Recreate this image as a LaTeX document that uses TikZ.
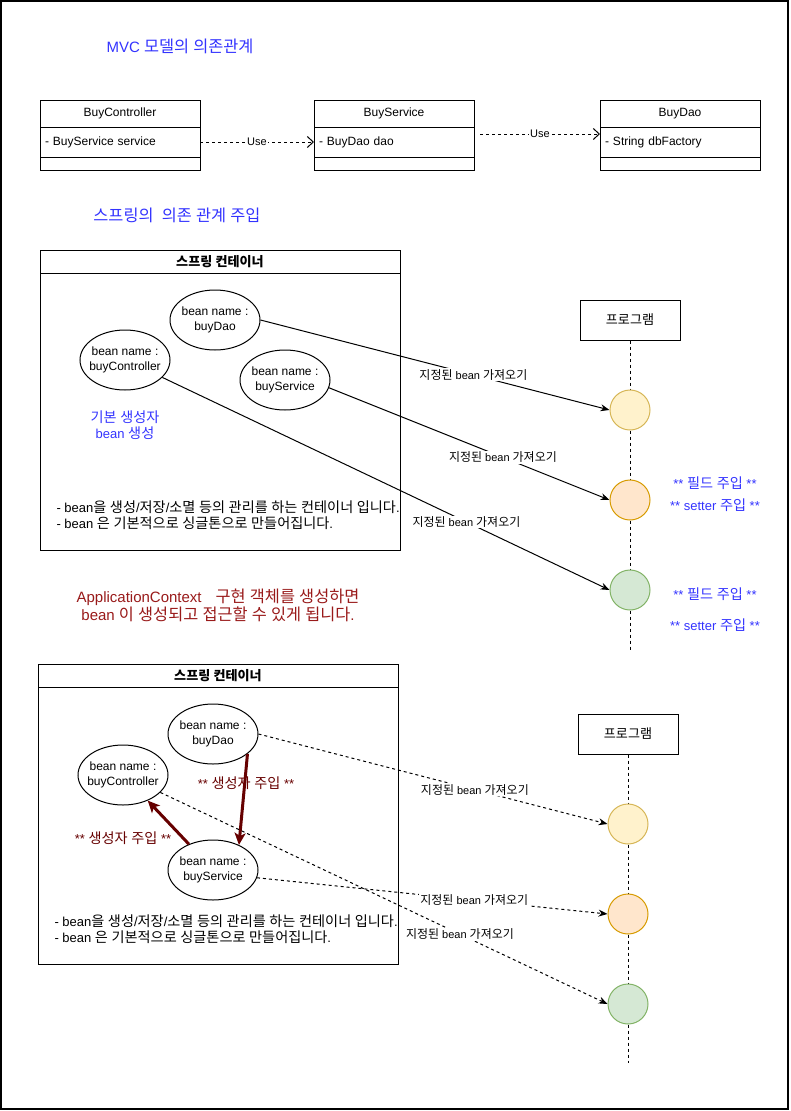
\documentclass[tikz,border=0pt]{standalone}
\usepackage{fontspec}
\setmainfont{Liberation Sans}
\newfontfamily\krfont{Noto Sans CJK KR}[Scale=1.09]
\usetikzlibrary{positioning,shapes.geometric,arrows.meta}
\XeTeXinterchartokenstate=1
\newXeTeXintercharclass\krclass
\newcount\krcode
\krcode="AC00
\loop
  \XeTeXcharclass\krcode=\krclass
  \ifnum\krcode<"D7A3 \advance\krcode by 1
\repeat
\XeTeXinterchartoks 0 \krclass = {\begingroup\krfont}
\XeTeXinterchartoks 4095 \krclass = {\begingroup\krfont}
\XeTeXinterchartoks \krclass 0 = {\endgroup}
\XeTeXinterchartoks \krclass 4095 = {\endgroup}
\definecolor{titleblue}{HTML}{3333FF}
\definecolor{notered}{HTML}{991A1A}
\definecolor{injectred}{HTML}{660000}
\definecolor{yellowfill}{HTML}{FFF2CC}
\definecolor{yellowline}{HTML}{D6B656}
\definecolor{orangefill}{HTML}{FFE6CC}
\definecolor{orangeline}{HTML}{D79B00}
\definecolor{greenfill}{HTML}{D5E8D4}
\definecolor{greenline}{HTML}{82B366}
\newcommand{\fs}[2]{\fontsize{#1}{#2}\selectfont}
\tikzset{
  umlhead/.style={draw,outer sep=0pt,minimum width=160pt,minimum height=27pt,inner sep=0pt,font=\fs{12}{14}},
  umlattr/.style={draw,outer sep=0pt,minimum width=160pt,minimum height=30pt,text width=150pt,align=left,inner xsep=5pt,inner ysep=0pt,font=\fs{12}{14}},
  umlfoot/.style={draw,outer sep=0pt,minimum width=160pt,minimum height=13pt,inner sep=0pt},
  usearrow/.style={dash pattern=on 3pt off 3pt,-{Straight Barb[length=6pt,width=11pt]}},
  uselabel/.style={fill=white,inner sep=1pt,font=\fs{11}{13}},
  boxhead/.style={draw,outer sep=0pt,minimum width=360pt,minimum height=23pt,inner sep=0pt,font=\fs{12}{14}\bfseries},
  boxbody/.style={draw,outer sep=0pt,minimum width=360pt,minimum height=277pt,inner sep=0pt},
  bean/.style={draw,ellipse,minimum width=90pt,minimum height=60pt,inner xsep=-15pt,inner ysep=0pt,align=center,font=\fs{12}{15}},
  note/.style={align=left,inner sep=0pt,font=\fs{13}{16}},
  progbox/.style={draw,minimum width=100pt,minimum height=40pt,inner sep=0pt,font=\fs{12}{14}},
  lifeline/.style={dash pattern=on 3pt off 3pt},
  slot/.style={draw,circle,minimum size=40pt,inner sep=0pt},
  fetch/.style={-{Stealth[length=9pt,width=7pt]}},
  fetchdash/.style={fetch,dash pattern=on 3pt off 3pt},
  fetchlabel/.style={fill=white,inner sep=1pt,font=\fs{11}{13}},
  bluetitle/.style={text=titleblue,inner sep=0pt,font=\fs{15}{18}},
  bluenote/.style={text=titleblue,inner sep=0pt,align=center,font=\fs{13}{16}},
  rednote/.style={text=notered,inner sep=0pt,align=center,font=\fs{15}{16.5}},
  inject/.style={draw=injectred,line width=3pt,-{Stealth[length=12pt,width=11pt,inset=3pt]}},
  injectlabel/.style={text=injectred,inner sep=0pt,font=\fs{13}{15}}
}
\begin{document}
\begin{tikzpicture}[x=1pt,y=-1pt,line width=1pt]
  \useasboundingbox (0,0) rectangle (791,1111);
  \draw[line width=1.5pt] (1,1) rectangle (788,1109);

  \node[bluetitle] (mvctitle) at (180,46) {MVC 모델의 의존관계};

  \node[umlhead] (ctrlhead) at (120,113.5) {BuyController};
  \node[umlattr,below=0pt of ctrlhead] (ctrlattr) {- BuyService service};
  \node[umlfoot,below=0pt of ctrlattr] (ctrlfoot) {};
  \node[umlhead] (svchead) at (394,113.5) {BuyService};
  \node[umlattr,below=0pt of svchead] (svcattr) {- BuyDao dao};
  \node[umlfoot,below=0pt of svcattr] (svcfoot) {};
  \node[umlhead] (daohead) at (680,113.5) {BuyDao};
  \node[umlattr,below=0pt of daohead] (daoattr) {- String dbFactory};
  \node[umlfoot,below=0pt of daoattr] (daofoot) {};
  \coordinate (usefrom) at (480,134);
  \draw[usearrow] (ctrlattr.east) -- node[uselabel] {Use} (svcattr.west);
  \draw[usearrow] (usefrom) -- node[uselabel] {Use} (daoattr.west |- usefrom);

  \node[bluetitle] (springtitle) at (177,215) {스프링의\ \ 의존 관계 주입};

  \node[boxhead] (cont1head) at (220,261.5) {스프링 컨테이너};
  \node[boxbody,below=0pt of cont1head] (cont1body) {};
  \node[bean] (dao1) at (215,320) {bean name :\\buyDao};
  \node[bean] (ctrl1) at (125,360) {bean name :\\buyController};
  \node[bean] (svc1) at (285,380) {bean name :\\buyService};
  \node[bluenote] (basic1) at (125,425) {기본 생성자\\bean 생성};
  \node[note,anchor=west] (notes1) at (56,515) {- bean을 생성/저장/소멸 등의 관리를 하는 컨테이너 입니다.\\- bean 은 기본적으로 싱글톤으로 만들어집니다.};

  \node[progbox] (prog1) at (630,320) {프로그램};
  \coordinate (life1end) at (630,650);
  \draw[lifeline] (prog1.south) -- (life1end);
  \node[slot,fill=yellowfill,draw=yellowline] (get1a) at (630,410) {};
  \node[slot,fill=orangefill,draw=orangeline] (get1b) at (630,500) {};
  \node[slot,fill=greenfill,draw=greenline] (get1c) at (630,590) {};
  \draw[fetch] (dao1.east) -- node[fetchlabel,pos=0.61] {지정된 bean 가져오기} (get1a.west);
  \draw[fetch] (svc1.-10) -- node[fetchlabel,pos=0.62] {지정된 bean 가져오기} (get1b.west);
  \draw[fetch] (ctrl1.-25) -- node[fetchlabel,pos=0.68] {지정된 bean 가져오기} (get1c.west);
  \node[bluenote] (field1) at (715,483) {** 필드 주입 **};
  \node[bluenote] (setter1) at (715,505) {** setter 주입 **};
  \node[bluenote] (field2) at (715,594) {** 필드 주입 **};
  \node[bluenote] (setter2) at (715,625) {** setter 주입 **};

  \node[rednote] (ctxnote) at (218,605) {ApplicationContext\hspace{14pt}구현 객체를 생성하면\\bean 이 생성되고 접근할 수 있게 됩니다.};

  \node[boxhead] (cont2head) at (218,675.5) {스프링 컨테이너};
  \node[boxbody,below=0pt of cont2head] (cont2body) {};
  \node[bean] (dao2) at (213,734) {bean name :\\buyDao};
  \node[bean] (ctrl2) at (123,775) {bean name :\\buyController};
  \node[bean] (svc2) at (213,870) {bean name :\\buyService};
  \draw[inject] (dao2.-30) -- (svc2.44);
  \draw[inject] (svc2.133) -- (ctrl2.-46);
  \node[injectlabel] (inject1) at (246,783) {** 생성자 주입 **};
  \node[injectlabel] (inject2) at (123,838) {** 생성자 주입 **};
  \node[note,anchor=west] (notes2) at (54,929) {- bean을 생성/저장/소멸 등의 관리를 하는 컨테이너 입니다.\\- bean 은 기본적으로 싱글톤으로 만들어집니다.};

  \node[progbox] (prog2) at (628,734) {프로그램};
  \coordinate (life2end) at (628,1063);
  \draw[lifeline] (prog2.south) -- (life2end);
  \node[slot,fill=yellowfill,draw=yellowline] (get2a) at (628,824) {};
  \node[slot,fill=orangefill,draw=orangeline] (get2b) at (628,914) {};
  \node[slot,fill=greenfill,draw=greenline] (get2c) at (628,1004) {};
  \draw[fetchdash] (dao2.east) -- node[fetchlabel,pos=0.62] {지정된 bean 가져오기} (get2a.west);
  \draw[fetchdash] (svc2.-10) -- node[fetchlabel,pos=0.62] {지정된 bean 가져오기} (get2b.west);
  \draw[fetchdash] (ctrl2.-25) -- node[fetchlabel,pos=0.67] {지정된 bean 가져오기} (get2c.west);
\end{tikzpicture}
\end{document}
